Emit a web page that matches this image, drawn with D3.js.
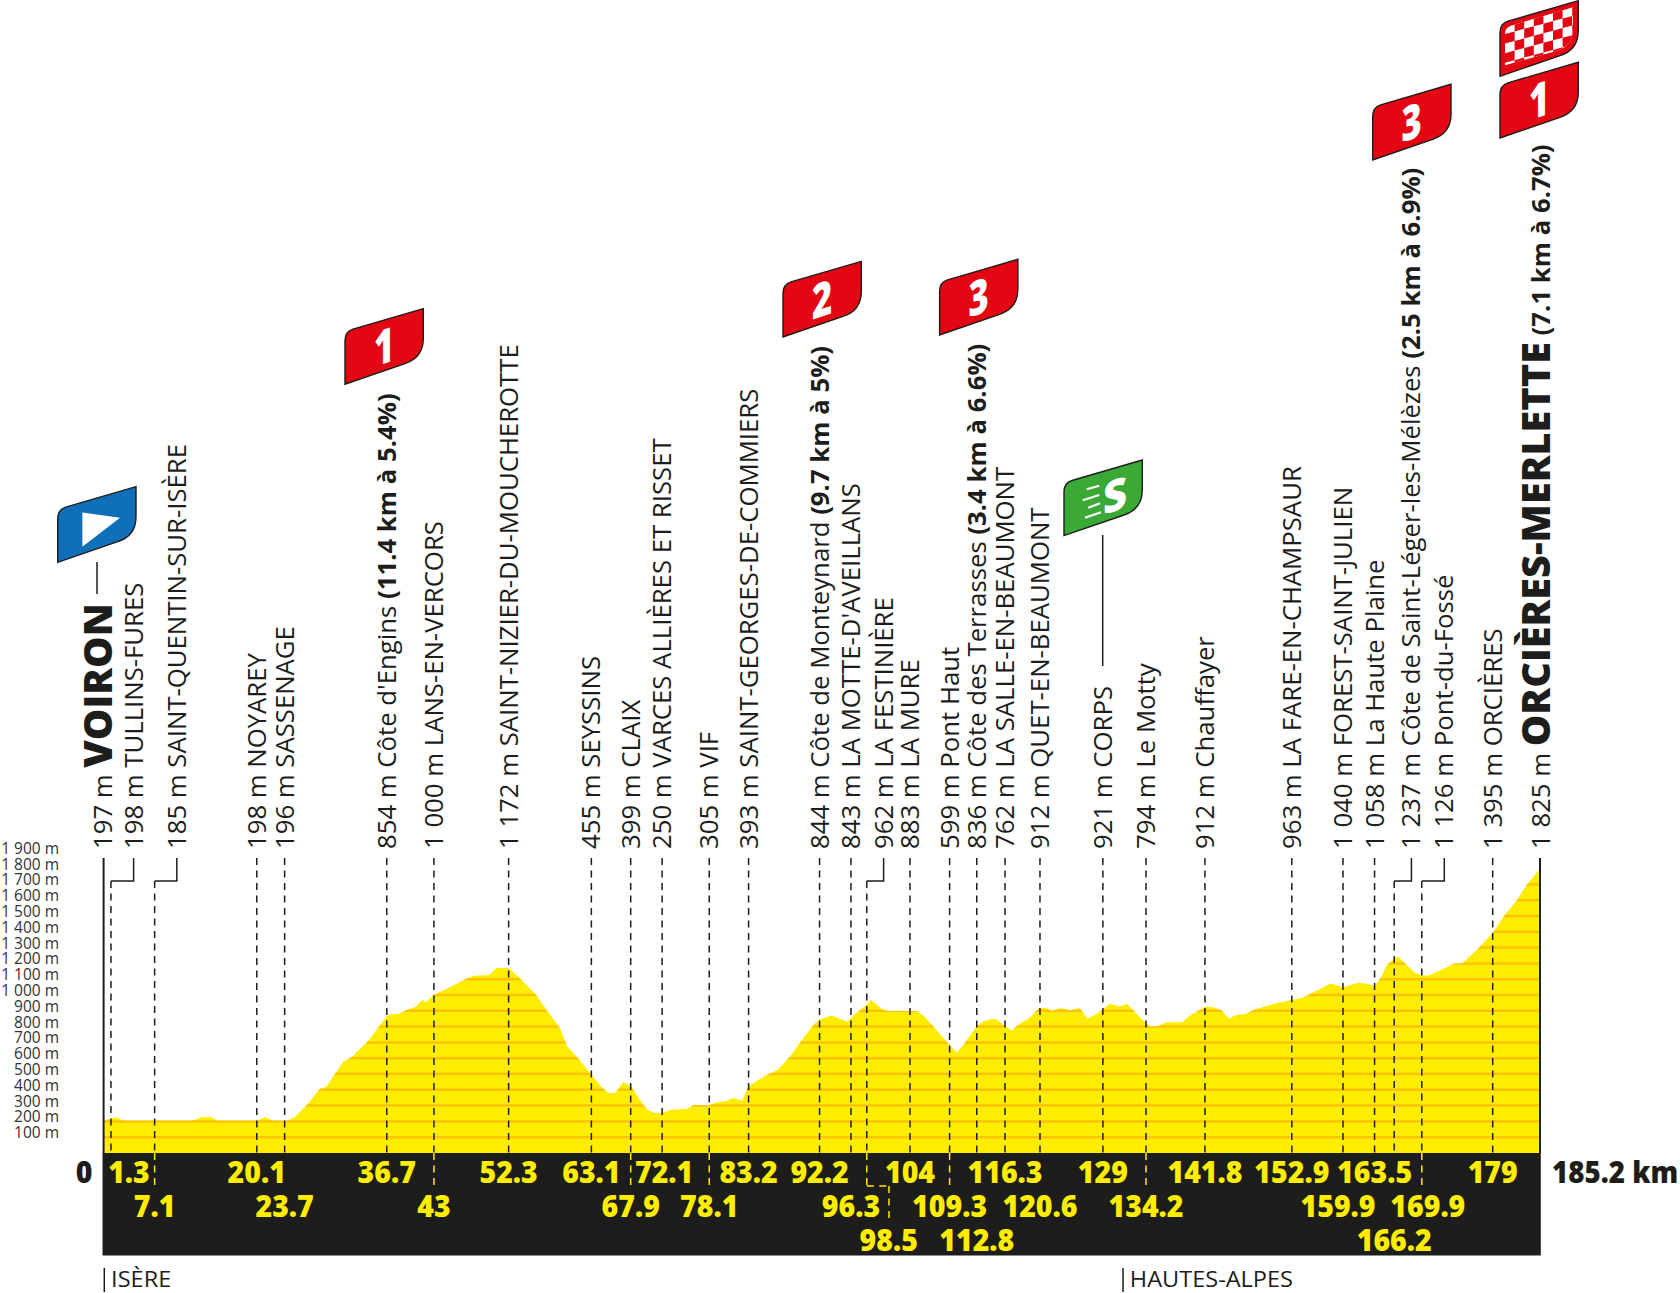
<!DOCTYPE html>
<html><head><meta charset="utf-8">
<script src="https://cdnjs.cloudflare.com/ajax/libs/d3/7.8.5/d3.min.js"></script>
<style>html,body{margin:0;padding:0;background:#fff}svg{display:block}text{font-family:"Open Sans",sans-serif}</style>
</head><body><svg id="c" width="1680" height="1293"></svg>
<script>
// ---------- data ----------
const elevationTicks = d3.range(100, 2000, 100);
const profileKm = [0,0.69,1.61,2.53,11.51,12.66,13.81,14.73,19.8,20.81,21.87,23.71,24.63,26.24,27.85,28.78,30.85,32,34.07,36.51,36.97,37.98,39.13,40.29,41.11,41.53,42.59,44.66,46.5,47.65,49.72,50.64,52.21,53.41,55.71,57.09,58.84,59.76,61.14,62.89,64.13,65.06,65.98,66.99,67.96,68.97,70.11,71.04,71.96,73.11,75.18,76.1,78.09,79.1,80.25,81.17,82.32,83.15,85.54,86.93,88.53,89.92,91.53,92.31,93.83,95.9,96.82,98.39,98.94,100.5,101.2,104.88,105.8,106.95,109.02,110.04,111.32,112.57,113.4,114.55,115.24,116.2,117.08,118.23,119.38,120.53,121.45,122.37,123.3,124.68,125.83,126.84,127.9,128.82,129.74,131.03,131.95,133.1,134.39,134.95,135.87,137.02,139.09,140.01,141.99,143,144.15,145.07,145.99,147.14,148.29,149.45,151.29,153.18,154.51,158.2,159.81,161.65,162.8,163.86,164.65,165.47,166.85,167.87,169.02,169.94,170.86,172.47,174.08,175.23,177.07,179.1,180.52,182.13,183.51,185.12];
const profileElev = [203,215,226,205,205,226,228,205,205,226,205,205,226,306,405,422,576,608,707,865,878,880,907,928,970,954,1002,1049,1097,1122,1127,1171,1171,1118,1004,907,791,675,601,496,422,380,380,449,426,348,274,253,253,274,278,304,304,323,327,348,331,422,496,527,612,707,812,844,871,831,876,939,970,907,899,899,865,802,686,633,717,802,833,850,844,802,776,823,854,914,918,901,918,903,918,852,876,907,945,928,945,886,819,802,802,827,827,869,924,924,903,850,873,878,907,924,949,968,981,1072,1049,1076,1072,1055,1108,1192,1245,1198,1143,1124,1124,1160,1198,1203,1287,1392,1498,1593,1699,1793];
const placeKmLabels = ["1.3","7.1","20.1","23.7","36.7","43","52.3","63.1","67.9","72.1","78.1","83.2","92.2","96.3","98.5","104","109.3","112.8","116.3","120.6","129","134.2","141.8","152.9","159.9","163.5","166.2","169.9","179"];
const placeDropKm = [0.95,6.58,19.75,23.34,36.51,42.59,52.22,62.89,67.96,72.01,78.09,83.16,92.31,96.36,98.40,103.97,109.08,112.58,116.22,120.73,128.84,134.40,142.0,153.2,159.8,163.87,166.4,169.96,179.1];
const placeRows = [1,2,1,2,1,2,1,1,2,1,2,1,1,2,3,1,2,3,1,2,1,2,1,1,2,1,3,2,1];
const placeElev = ["198 m","185 m","198 m","196 m","854 m","1 000 m","1 172 m","455 m","399 m","250 m","305 m","393 m","844 m","843 m","962 m","883 m","599 m","836 m","762 m","912 m","921 m","794 m","912 m","963 m","1 040 m","1 058 m","1 237 m","1 126 m","1 395 m"];
const placeNames = ["TULLINS-FURES","SAINT-QUENTIN-SUR-ISÈRE","NOYAREY","SASSENAGE","Côte d'Engins","LANS-EN-VERCORS","SAINT-NIZIER-DU-MOUCHEROTTE","SEYSSINS","CLAIX","VARCES ALLIÈRES ET RISSET","VIF","SAINT-GEORGES-DE-COMMIERS","Côte de Monteynard","LA MOTTE-D'AVEILLANS","LA FESTINIÈRE","LA MURE","Pont Haut","Côte des Terrasses","LA SALLE-EN-BEAUMONT","QUET-EN-BEAUMONT","CORPS","Le Motty","Chauffayer","LA FARE-EN-CHAMPSAUR","FOREST-SAINT-JULIEN","La Haute Plaine","Côte de Saint-Léger-les-Mélèzes","Pont-du-Fossé","ORCIÈRES"];
const climbNotes = {"Côte d'Engins":"(11.4 km à 5.4%)","Côte de Monteynard":"(9.7 km à 5%)","Côte des Terrasses":"(3.4 km à 6.6%)","Côte de Saint-Léger-les-Mélèzes":"(2.5 km à 6.9%)"};
const leaderTopKm = {"1.3":3.87,"7.1":9.44,"98.5":100.57,"166.2":168.62,"169.9":172.86};
const departments = [{km:0,name:"ISÈRE"},{km:131.35,name:"HAUTES-ALPES"}];

// ---------- layout ----------
const x=d3.scaleLinear().domain([0,185.2]).range([103.6,1540]);
const y=d3.scaleLinear().domain([0,1000]).range([1153.0,995.0]);
const ink="#1d1d1b",yellow="#ffed00",grid="#fdc300";
const axisTop=858, elbowY=881, bandBottom=1255.5;
const svg=d3.select("#c");
const defs=svg.append("defs");
const profile=profileKm.map((k,i)=>[k,profileElev[i]]);
const area=d3.area().x(d=>x(d[0])).y0(y(0)).y1(d=>y(d[1]));
const areaData=[...profile,[185.2,profileElev[profileElev.length-1]]];
defs.append("clipPath").attr("id","pclip").append("path").attr("d",area(areaData));
svg.append("path").attr("d",area(areaData)).attr("fill",yellow);
svg.append("g").attr("clip-path","url(#pclip)").selectAll("line").data(elevationTicks).join("line")
  .attr("x1",x(0)).attr("x2",x(185.2)).attr("y1",d=>y(d)).attr("y2",d=>y(d)).attr("stroke",grid).attr("stroke-width",2.5);
// band
svg.append("rect").attr("x",102.5).attr("y",y(0)).attr("width",1540.8-102.5).attr("height",bandBottom-y(0)).attr("fill",ink);
// elevation axis
const yAxis=d3.axisLeft(y).tickValues(elevationTicks).tickSize(0).tickPadding(0)
  .tickFormat(d=>(d>=1000?Math.floor(d/1000)+" "+String(d%1000).padStart(3,"0"):d)+" m");
const ga=svg.append("g").attr("transform","translate(59,-5)").call(yAxis);
ga.select(".domain").remove();
ga.selectAll("text").attr("fill","#333").style("font-size","15.5px").style("font-family",'"Open Sans"').attr("dy",".35em");
// verticals at start and finish
[0,185.2].forEach(k=>svg.append("line").attr("x1",x(k)).attr("x2",x(k)).attr("y1",axisTop).attr("y2",y(0)).attr("stroke",ink).attr("stroke-width",2));
// droplines
const dash="7,5.5";
const places=placeKmLabels.map((km,i)=>({km,drop:placeDropKm[i],row:placeRows[i],elev:placeElev[i],name:placeNames[i],note:climbNotes[placeNames[i]]||null}));
const below=new Set(["7.1","43","67.9","78.1","109.3","134.2","169.9"]);
const dl=svg.append("g").attr("fill","none").attr("stroke-width",1.5);
places.forEach(p=>{
  const px=x(p.drop),lk=leaderTopKm[p.km];
  if(lk!==undefined){
    dl.append("path").attr("d",d3.line()([[x(lk),axisTop],[x(lk),elbowY],[px,elbowY]])).attr("stroke",ink);
    dl.append("line").attr("x1",px).attr("x2",px).attr("y1",elbowY).attr("y2",y(0)).attr("stroke",ink).attr("stroke-dasharray",dash);
  } else {
    dl.append("line").attr("x1",px).attr("x2",px).attr("y1",axisTop).attr("y2",y(0)).attr("stroke",ink).attr("stroke-dasharray",dash);
  }
  if(below.has(p.km)) dl.append("line").attr("x1",px).attr("x2",px).attr("y1",y(0)).attr("y2",1187).attr("stroke",yellow).attr("stroke-dasharray",dash);
  if(p.km==="98.5"){
    dl.append("line").attr("x1",px).attr("x2",px).attr("y1",y(0)).attr("y2",1186).attr("stroke",yellow).attr("stroke-dasharray",dash);
    dl.append("line").attr("x1",px).attr("x2",889).attr("y1",1186).attr("y2",1186).attr("stroke",yellow).attr("stroke-dasharray",dash);
    dl.append("line").attr("x1",889).attr("x2",889).attr("y1",1186).attr("y2",1220).attr("stroke",yellow).attr("stroke-dasharray",dash);
  }
});
// km labels
const rowY={1:1183,2:1217,3:1251};
const kmDx={"1.3":18,"72.1":2,"98.5":22,"159.9":-5,"169.9":6};
const kmFont=30,kmK=0.95;
function cx(sel,xp,yp,k){return sel.attr("transform",`translate(${xp},${yp}) scale(${k},1)`);}
places.forEach(p=>{
  cx(svg.append("text").text(p.km).attr("text-anchor","middle").attr("fill",yellow)
    .style("font-size",kmFont+"px").style("font-weight",800),x(p.drop)+(kmDx[p.km]||0),rowY[p.row],kmK);
});
cx(svg.append("text").text("0").attr("text-anchor","middle").attr("fill",ink).style("font-size",kmFont+"px").style("font-weight",800),84,1183,kmK);
cx(svg.append("text").text("185.2 km").attr("text-anchor","start").attr("fill",ink).style("font-size",kmFont+"px").style("font-weight",800),1552,1183,0.925);
// departments
departments.forEach(d=>{
  const bx=x(d.km);
  svg.append("line").attr("x1",bx+0.7).attr("x2",bx+0.7).attr("y1",1268).attr("y2",1292).attr("stroke",ink).attr("stroke-width",1.5);
  cx(svg.append("text").text(d.name).attr("fill",ink).style("font-size","22px"),bx+7.5,1286.5,1.07);
});
// vertical labels
const labelFont=25,labelK=1.03,labelY=849;
function vlabel(xp,build){
  const t=svg.append("text").attr("transform",`translate(${xp},${labelY}) rotate(-90) scale(${labelK},1)`).attr("fill",ink).style("font-size",labelFont+"px");
  build(t);return t;
}
places.forEach(p=>{
  const lk=leaderTopKm[p.km];
  const tx=x(lk!==undefined?lk:p.drop)+9;
  vlabel(tx,t=>{
    t.append("tspan").text(p.elev+" "+p.name);
    if(p.note) t.append("tspan").text(" "+p.note).style("font-weight",700);
  });
});
// start and finish
vlabel(111.7,t=>{t.append("tspan").text("197 m ");
  t.append("tspan").text("VOIRON").style("font-size","38.5px").style("font-weight",800);});
vlabel(1550,t=>{t.append("tspan").text("1 825 m ");
  t.append("tspan").text("ORCIÈRES-MERLETTE").style("font-size","38.5px").style("font-weight",800);
  t.append("tspan").text(" (7.1 km à 6.7%)").style("font-weight",700);});
svg.append("line").attr("x1",97).attr("x2",97).attr("y1",562).attr("y2",594).attr("stroke",ink).attr("stroke-width",1.5);
svg.append("line").attr("x1",1102.7).attr("x2",1102.7).attr("y1",535).attr("y2",666).attr("stroke",ink).attr("stroke-width",1.5);
// flags
const flagPath="M0,75.6 L0,32 Q0,23 8,20.5 L78.3,0 L78.3,30 Q78.3,49 60,55 Z";
const red="#e30613",blue="#0f6fb8",green="#3aa935";
function flag(fx,fy,col){
  const g=svg.append("g").attr("transform",`translate(${fx},${fy})`);
  g.append("path").attr("d",flagPath).attr("fill",col).attr("stroke",ink).attr("stroke-width",1.4);
  return g;
}
function flagDigit(g,s){
  g.append("text").text(s).attr("fill","#fff").attr("text-anchor","middle").style("font-size","48px").style("font-weight",800)
   .attr("transform","translate(39,55) skewY(-18) scale(.72,1)");
}
flagDigit(flag(345,308.6,red),"1");
flagDigit(flag(783,261.4,red),"2");
flagDigit(flag(939.6,259.3,red),"3");
flagDigit(flag(1372.7,84.3,red),"3");
flagDigit(flag(1500,62.3,red),"1");
const sf=flag(57.7,486.7,blue);
sf.append("path").attr("d",d3.line()([[24.7,25.7],[62.3,31],[24.7,60]])+"Z").attr("fill","#fff");
const gf=flag(1064,460,green);
gf.append("g").attr("stroke","#fff").attr("stroke-width",2).selectAll("path")
  .data([[[22.7,29.3],[35.3,25.7]],[[18.7,40.3],[35.3,35]],[[24.3,47.7],[36,43.3]],[[21,57.7],[37,52.3]]])
  .join("path").attr("d",d=>d3.line()(d));
gf.append("text").text("S").attr("fill","#fff").attr("text-anchor","middle").style("font-size","44px").style("font-weight",800)
  .attr("transform","translate(51,51) skewY(-18) scale(.95,1)");
// checker flag
const cf=flag(1500,0.7,red);
const inner="M5,64.5 L5,33 Q5,27 11,25 L73,6.5 L73,28 Q73,45 57,50 Z";
defs.append("clipPath").attr("id","chk").append("path").attr("d",inner);
cf.append("path").attr("d",inner).attr("fill","#fff");
const cg=cf.append("g").attr("clip-path","url(#chk)");
const cell=9.6,slope=-0.268;
d3.range(0,9).forEach(c=>d3.range(0,7).forEach(r=>{
  if((c+r)%2) return;
  const x0=5+c*cell,x1=x0+cell,top=v=>22+slope*v+(r-1)*cell+3;
  cg.append("path").attr("fill",red).attr("d",d3.line()([[x0,top(x0)],[x1,top(x1)],[x1,top(x1)+cell],[x0,top(x0)+cell]])+"Z");
}));
</script></body></html>
